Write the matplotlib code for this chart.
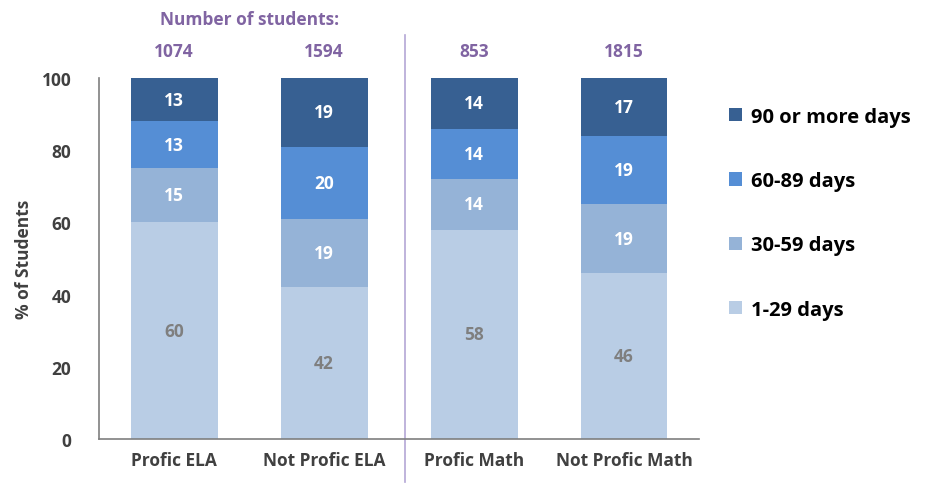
import matplotlib.pyplot as plt
import numpy as np

plt.rcParams['font.family'] = ['Open Sans', 'DejaVu Sans']
plt.rcParams['font.weight'] = 'bold'

# Data
groups = ["Profic ELA", "Not Profic ELA", "Profic Math", "Not Profic Math"]
n_students = [1074, 1594, 853, 1815]
series = ["1-29 days", "30-59 days", "60-89 days", "90 or more days"]
days_1_29 = [60, 42, 58, 46]
days_30_59 = [15, 19, 14, 19]
days_60_89 = [13, 20, 14, 19]
days_90_plus = [13, 19, 14, 17]

colors = ["#b9cde5", "#95b3d7", "#558ed5", "#376092"]
label_colors = ["#7f7f7f", "white", "white", "white"]
purple = "#8064a2"
fs = 12.5

fig = plt.figure(figsize=(9.27, 4.85), dpi=100)
ax = fig.add_axes([0.107, 0.093, 0.647, 0.744])

x = np.arange(len(groups))
bottom = np.zeros(len(groups))
for vals, name, c, lc in zip([days_1_29, days_30_59, days_60_89, days_90_plus],
                             series, colors, label_colors):
    vals = np.array(vals, dtype=float)
    ax.bar(x, vals, bottom=bottom, width=0.58, color=c, label=name)
    for xi, b, v in zip(x, bottom, vals):
        top = min(b + v, 100)
        ax.text(xi, (b + top) / 2, f"{int(v)}", ha="center", va="center",
                color=lc, fontsize=fs, fontweight="bold")
    bottom += vals

ax.set_xlim(-0.5, 3.5)
ax.set_ylim(0, 100)
ax.set_yticks(range(0, 101, 20))
ax.set_xticks(x)
ax.set_xticklabels(groups, fontsize=fs, fontweight="bold", color="#404040")
ax.tick_params(axis="y", labelsize=fs, labelcolor="#404040", length=0, pad=20)
ax.tick_params(axis="x", length=0, pad=9)
for s in ["top", "right"]:
    ax.spines[s].set_visible(False)
for s in ["left", "bottom"]:
    ax.spines[s].set_color("#7f7f7f")
    ax.spines[s].set_linewidth(1.2)
ax.set_ylabel("% of Students", fontsize=fs, fontweight="bold", color="#404040", labelpad=6)

# Number of students
for xi, n in zip(x, n_students):
    ax.text(xi, 107.5, str(n), ha="center", va="center", color=purple,
            fontsize=fs, fontweight="bold", clip_on=False)
ax.text(0.5, 116.5, "Number of students:", ha="center", va="center", color=purple,
        fontsize=fs, fontweight="bold", clip_on=False)

# Separator line between ELA and Math
ax.plot([1.54, 1.54], [-12, 112], color="#b4a7d6", linewidth=1.2, clip_on=False)

# Legend
handles, labels = ax.get_legend_handles_labels()
fig.legend(handles[::-1], labels[::-1], loc="upper left",
           bbox_to_anchor=(0.767, 0.815), frameon=False, fontsize=14.5,
           handlelength=0.65, handleheight=0.65, labelspacing=2.2,
           handletextpad=0.45)

fig.savefig("out.png", dpi=100)
